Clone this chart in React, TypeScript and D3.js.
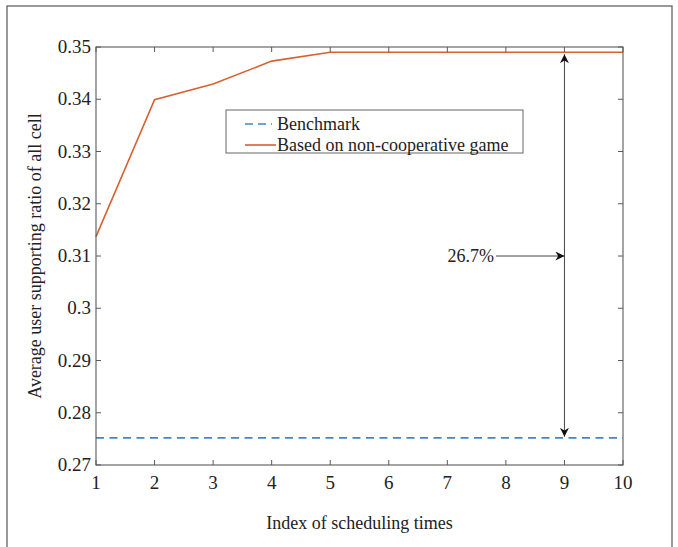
import React from "react";
import * as d3 from "d3";

const xTicks = [1, 2, 3, 4, 5, 6, 7, 8, 9, 10];
const yTicks = [0.27, 0.28, 0.29, 0.3, 0.31, 0.32, 0.33, 0.34, 0.35];
const yTickLabels = ["0.27", "0.28", "0.29", "0.3", "0.31", "0.32", "0.33", "0.34", "0.35"];
const schedIndex = [1, 2, 3, 4, 5, 6, 7, 8, 9, 10];
const gameValues = [0.3137, 0.3399, 0.3429, 0.3473, 0.349, 0.349, 0.349, 0.349, 0.349, 0.349];
const benchmarkValues = [0.2752, 0.2752, 0.2752, 0.2752, 0.2752, 0.2752, 0.2752, 0.2752, 0.2752, 0.2752];
const seriesNames = ["Benchmark", "Based on non-cooperative game"];
const annotationText = "26.7%";
const annotationX = 9;
const annotationLabelY = 0.31;

const W = 678, H = 547;
const left = 96, right = 623, top = 47, bottom = 465;
const font = "'Liberation Serif', 'Times New Roman', serif";
const axisColor = "#5a5a5a";
const orange = "#D9602F";
const blue = "#3F86CC";

export default function App() {
  const x = d3.scaleLinear().domain([1, 10]).range([left, right]);
  const y = d3.scaleLinear().domain([0.27, 0.35]).range([bottom, top]);
  const line = d3.line<number>().x((_, i) => x(schedIndex[i])).y((d) => y(d));
  const ax = x(annotationX);
  const yTopArrow = y(gameValues[gameValues.length - 1]) + 2;
  const yBotArrow = y(benchmarkValues[0]) - 1;
  const yLab = y(annotationLabelY);
  const tick = 5;
  return (
    <svg width={W} height={H} style={{ position: "absolute", left: 0, top: 0, background: "#fff" }}>
      <rect x={7} y={6} width={665} height={560} fill="none" stroke="#555" strokeWidth={1.2} />
      {/* data */}
      <path d={line(benchmarkValues) || ""} fill="none" stroke={blue} strokeWidth={1.6} strokeDasharray="8,5.5" />
      <path d={line(gameValues) || ""} fill="none" stroke={orange} strokeWidth={1.6} />
      {/* ticks */}
      {xTicks.map((t) => (
        <g key={"x" + t}>
          <line x1={x(t)} x2={x(t)} y1={bottom} y2={bottom - tick} stroke={axisColor} />
          <line x1={x(t)} x2={x(t)} y1={top} y2={top + tick} stroke={axisColor} />
          <text x={x(t)} y={bottom + 24} textAnchor="middle" fontFamily={font} fontSize={19} fill="#222">{t}</text>
        </g>
      ))}
      {yTicks.map((t, i) => (
        <g key={"y" + t}>
          <line x1={left} x2={left + tick} y1={y(t)} y2={y(t)} stroke={axisColor} />
          <line x1={right} x2={right - tick} y1={y(t)} y2={y(t)} stroke={axisColor} />
          <text x={left - 5} y={y(t) + 6} textAnchor="end" fontFamily={font} fontSize={19} fill="#222">{yTickLabels[i]}</text>
        </g>
      ))}
      <rect x={left} y={top} width={right - left} height={bottom - top} fill="none" stroke={axisColor} strokeWidth={1.1} />
      {/* titles */}
      <text x={(left + right) / 2} y={529} textAnchor="middle" fontFamily={font} fontSize={18} fill="#222">Index of scheduling times</text>
      <text transform={`translate(41, ${(top + bottom) / 2}) rotate(-90)`} textAnchor="middle" fontFamily={font} fontSize={18} fill="#222">Average user supporting ratio of all cell</text>
      {/* legend */}
      <rect x={226} y={110} width={297} height={43} fill="#fff" stroke="#666" strokeWidth={1} />
      <line x1={245} x2={272} y1={124} y2={124} stroke={blue} strokeWidth={1.6} strokeDasharray="8,5" />
      <text x={277} y={130} fontFamily={font} fontSize={18} fill="#222">{seriesNames[0]}</text>
      <line x1={245} x2={276} y1={145} y2={145} stroke={orange} strokeWidth={1.6} />
      <text x={277} y={151} fontFamily={font} fontSize={18} fill="#222">{seriesNames[1]}</text>
      {/* annotation */}
      <defs>
        <marker id="ah" viewBox="0 0 10 10" refX="10" refY="5" markerWidth="9" markerHeight="9" orient="auto-start-reverse" markerUnits="userSpaceOnUse">
          <path d="M0,0 L10,5 L0,10 L3,5 Z" fill="#111" />
        </marker>
      </defs>
      <line x1={ax} x2={ax} y1={yTopArrow} y2={yBotArrow} stroke="#444" strokeWidth={1} markerStart="url(#ah)" markerEnd="url(#ah)" />
      <line x1={496} x2={ax} y1={yLab} y2={yLab} stroke="#444" strokeWidth={1} markerEnd="url(#ah)" />
      <text x={494} y={yLab + 6} textAnchor="end" fontFamily={font} fontSize={18} fill="#222">{annotationText}</text>
    </svg>
  );
}
